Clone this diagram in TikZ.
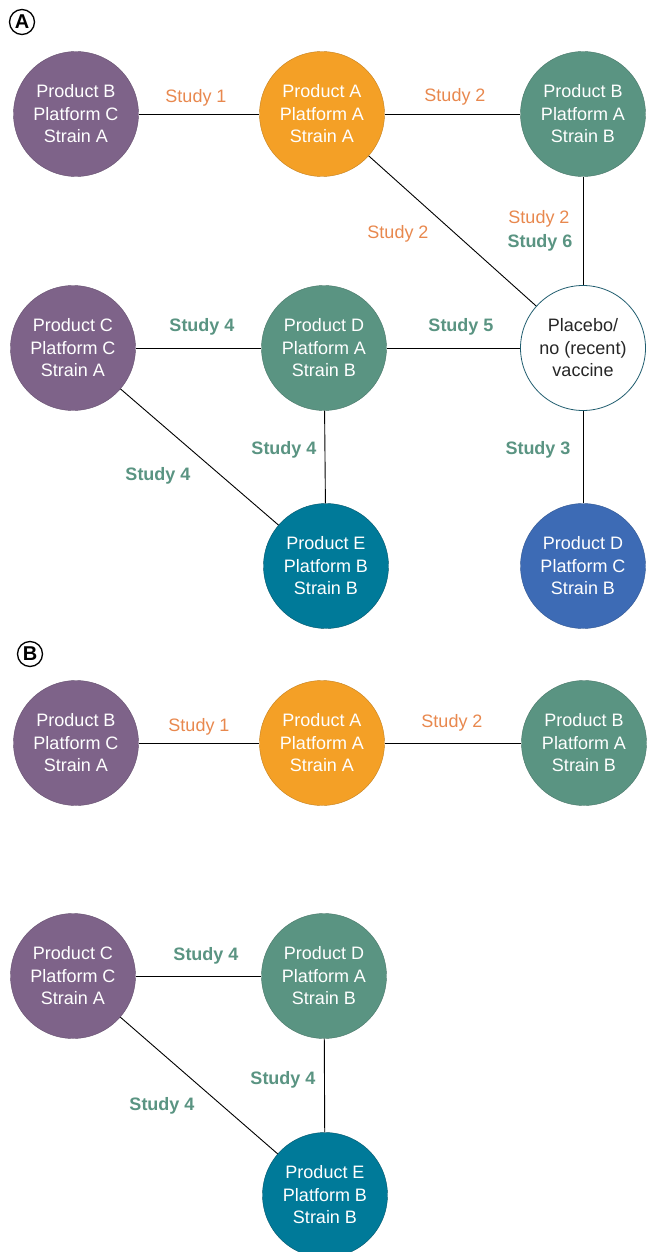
\documentclass[tikz,border=0pt]{standalone}
\usepackage{fontspec}
\setmainfont{Liberation Sans}
\definecolor{cpurple}{HTML}{7E6389}
\definecolor{corange}{HTML}{F4A026}
\definecolor{cgreen}{HTML}{5A9482}
\definecolor{cteal}{HTML}{007A99}
\definecolor{cblue}{HTML}{3D6BB5}
\definecolor{torange}{HTML}{E8884E}
\definecolor{tgreen}{HTML}{5A9482}
\definecolor{cplacebo}{HTML}{1F5C6E}
\begin{document}
\begin{tikzpicture}[x=1pt,y=-1pt,
  prod/.style={circle,minimum size=125pt,inner sep=0pt,align=center,text=white,
    font=\fontsize{18}{22.5}\selectfont},
  purp/.style={prod,fill=cpurple,draw=cpurple!80!black,line width=0.4pt},
  oran/.style={prod,fill=corange,draw=corange!80!black,line width=0.4pt},
  gree/.style={prod,fill=cgreen,draw=cgreen!80!black,line width=0.4pt},
  teal/.style={prod,fill=cteal,draw=cteal!70!black,line width=0.4pt},
  blu/.style={prod,fill=cblue,draw=cblue!80!black,line width=0.4pt},
  plac/.style={prod,fill=white,draw=cplacebo,text=black!85,line width=0.8pt},
  lo/.style={text=torange,font=\fontsize{18}{22}\selectfont},
  lg/.style={text=tgreen,font=\fontsize{18}{22}\selectfont\bfseries},
  edge/.style={draw=black,line width=0.9pt},
  tag/.style={circle,draw=black,line width=1.3pt,inner sep=1pt,minimum size=25pt,
    font=\fontsize{20}{20}\selectfont\bfseries}]
\useasboundingbox (0,0) rectangle (646,1252);
% Panel A
\node[tag] (ta) at (22,22) {A};
\node[purp] (a1) at (76,114) {Product B\\Platform C\\Strain A};
\node[oran] (a2) at (322,114) {Product A\\Platform A\\Strain A};
\node[gree] (a3) at (583,114) {Product B\\Platform A\\Strain B};
\node[purp] (a4) at (73,348) {Product C\\Platform C\\Strain A};
\node[gree] (a5) at (324,348) {Product D\\Platform A\\Strain B};
\node[plac] (a6) at (583,348) {Placebo/\\no (recent)\\vaccine};
\node[teal] (a7) at (326,566) {Product E\\Platform B\\Strain B};
\node[blu] (a8) at (583,566) {Product D\\Platform C\\Strain B};
\draw[edge] (a1) -- (a2);
\draw[edge] (a2) -- (a3);
\draw[edge] (a2) -- (a6);
\draw[edge] (a3) -- (a6);
\draw[edge] (a4) -- (a5);
\draw[edge] (a5) -- (a6);
\draw[edge] (a4) -- (a7);
\draw[edge] (a5) -- (a7);
\draw[edge] (a6) -- (a8);
\node[lo] (l1) at (196,98) {Study 1};
\node[lo] (l2) at (455,97) {Study 2};
\node[lo] (l3) at (398,234) {Study 2};
\node[lo] (l4) at (539,219) {Study 2};
\node[lg] (l5) at (540,243) {Study 6};
\node[lg] (l6) at (202,327) {Study 4};
\node[lg] (l7) at (461,327) {Study 5};
\node[lg] (l8) at (284,450) {Study 4};
\node[lg] (l9) at (158,476) {Study 4};
\node[lg] (l10) at (538,450) {Study 3};
% Panel B
\node[tag] (tb) at (30,654) {B};
\node[purp] (b1) at (76,743) {Product B\\Platform C\\Strain A};
\node[oran] (b2) at (322,743) {Product A\\Platform A\\Strain A};
\node[gree] (b3) at (584,743) {Product B\\Platform A\\Strain B};
\node[purp] (b4) at (73,976) {Product C\\Platform C\\Strain A};
\node[gree] (b5) at (324,976) {Product D\\Platform A\\Strain B};
\node[teal] (b7) at (325,1195) {Product E\\Platform B\\Strain B};
\draw[edge] (b1) -- (b2);
\draw[edge] (b2) -- (b3);
\draw[edge] (b4) -- (b5);
\draw[edge] (b4) -- (b7);
\draw[edge] (b5) -- (b7);
\node[lo] (m1) at (199,727) {Study 1};
\node[lo] (m2) at (452,723) {Study 2};
\node[lg] (m3) at (206,956) {Study 4};
\node[lg] (m4) at (283,1080) {Study 4};
\node[lg] (m5) at (162,1106) {Study 4};
\end{tikzpicture}
\end{document}
